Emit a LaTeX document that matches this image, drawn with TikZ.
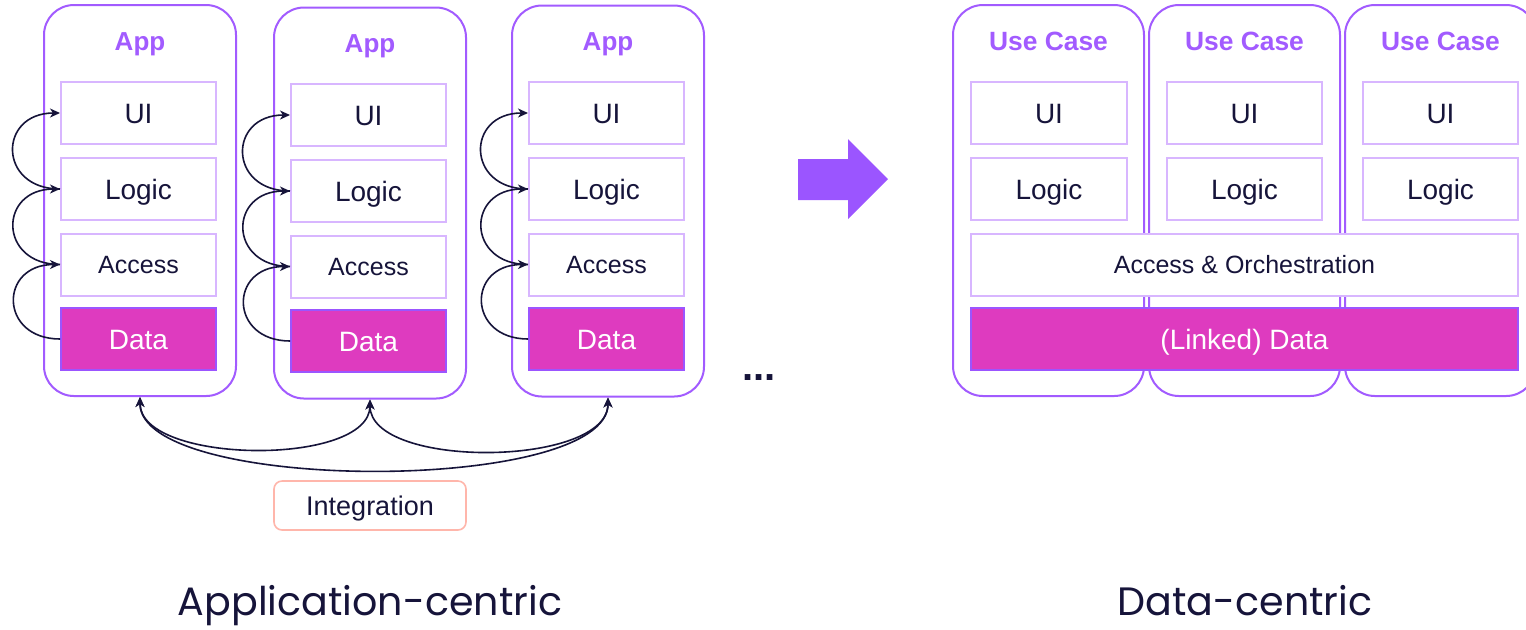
\documentclass[tikz,border=0pt]{standalone}
\usepackage{fontspec}
\setmainfont{Liberation Sans}
\newfontfamily\titlefont{Poppins}
\usetikzlibrary{arrows.meta}
\definecolor{ink}{HTML}{16143A}
\definecolor{violetb}{HTML}{A25BFF}
\definecolor{lilac}{HTML}{D8B6FF}
\definecolor{magentad}{HTML}{DE3BBF}
\definecolor{violetd}{HTML}{9B55FF}
\definecolor{salmon}{HTML}{FFB6AB}
\tikzset{
  outer/.style={draw=violetb, line width=1pt, rounded corners=15pt, minimum width=96pt, minimum height=195.5pt, inner sep=0pt},
  ttl/.style={text=violetb, font=\fontsize{13}{15}\selectfont\bfseries, text height=9.3pt, text depth=0pt, inner sep=0pt},
  inner/.style={draw=lilac, line width=1pt, fill=white, minimum width=77.5pt, minimum height=31pt, inner sep=0pt, text=ink, font=\fontsize{14}{16}\selectfont, text height=10pt, text depth=0pt},
  small/.style={font=\fontsize{12.5}{14}\selectfont, text height=9pt},
  datab/.style={inner, fill=magentad, draw=violetd, line width=0.8pt, text=white},
  loopar/.style={draw=ink, line width=0.8pt, -{Stealth[length=5pt,width=4.5pt,inset=1.5pt]}},
  integ/.style={draw=ink, line width=0.8pt, {Stealth[length=5pt,width=4.5pt,inset=1.5pt]}-{Stealth[length=5pt,width=4.5pt,inset=1.5pt]}},
  bigtitle/.style={text=ink, font=\titlefont\fontsize{19.8}{22}\selectfont, anchor=base, inner sep=0pt}
}
\begin{document}
\begin{tikzpicture}[x=0.5pt, y=-0.5pt]
\clip (0,0) rectangle (1526,629);
\fill[white] (0,0) rectangle (1526,629);
% ---------- Application-centric ----------
\node[outer] (app1) at (140,200.5) {};
\node[outer] (app2) at (370,203) {};
\node[outer] (app3) at (608,201) {};
\node[ttl] (t1) at (140,41) {App};
\node[ttl] (t2) at (370,43) {App};
\node[ttl] (t3) at (608,41) {App};
% app 1
\node[inner] (a1ui) at (138.5,113) {UI};
\node[inner] (a1lo) at (138.5,189) {Logic};
\node[inner, small] (a1ac) at (138.5,264.5) {Access};
\node[datab] (a1da) at (138.5,339) {Data};
% app 2
\node[inner] (a2ui) at (368.5,115) {UI};
\node[inner] (a2lo) at (368.5,191) {Logic};
\node[inner, small] (a2ac) at (368.5,266.5) {Access};
\node[datab] (a2da) at (368.5,341) {Data};
% app 3
\node[inner] (a3ui) at (606.5,113) {UI};
\node[inner] (a3lo) at (606.5,189) {Logic};
\node[inner, small] (a3ac) at (606.5,264.5) {Access};
\node[datab] (a3da) at (606.5,339) {Data};
% loops
\foreach \a in {a1,a2,a3}{
  \draw[loopar] (\a lo.west) to[out=180,in=180,looseness=2.1] (\a ui.west);
  \draw[loopar] (\a ac.west) to[out=180,in=180,looseness=2.1] (\a lo.west);
  \draw[loopar] (\a da.west) to[out=180,in=180,looseness=2.1] (\a ac.west);
}
% integration
\draw[integ] (app2.south) to[out=-90,in=-90,looseness=0.75] (app1.south);
\draw[integ] (app2.south) to[out=-90,in=-90,looseness=0.75] (app3.south);
\draw[integ] (app1.south) to[out=-90,in=-90,looseness=0.53] (app3.south);
\node[draw=salmon, line width=0.8pt, rounded corners=4pt, minimum width=96pt, minimum height=24.5pt, inner sep=0pt, text=ink, font=\fontsize{13.5}{15}\selectfont, text height=9.7pt, text depth=0pt] (integ) at (370,505.5) {Integration};
\node[text=ink, font=\fontsize{20}{22}\selectfont\bfseries, inner sep=0pt] (dots) at (759,378) {...};
% big arrow
\fill[violetd] (798,159) -- (848,159) -- (848,139) -- (888,179) -- (848,219) -- (848,200) -- (798,200) -- cycle;
% ---------- Data-centric ----------
\node[outer, minimum width=95.5pt] (uc1) at (1048.5,200.5) {};
\node[outer, minimum width=95.5pt] (uc2) at (1244.5,200.5) {};
\node[outer, minimum width=95.5pt] (uc3) at (1440.5,200.5) {};
\node[ttl, font=\fontsize{13.2}{15}\selectfont\bfseries, text height=9.6pt] (u1) at (1048.5,41) {Use Case};
\node[ttl, font=\fontsize{13.2}{15}\selectfont\bfseries, text height=9.6pt] (u2) at (1244.5,41) {Use Case};
\node[ttl, font=\fontsize{13.2}{15}\selectfont\bfseries, text height=9.6pt] (u3) at (1440.5,41) {Use Case};
\node[inner, minimum width=78pt] (c1ui) at (1049,113) {UI};
\node[inner, minimum width=78pt] (c1lo) at (1049,189) {Logic};
\node[inner] (c2ui) at (1244.5,113) {UI};
\node[inner] (c2lo) at (1244.5,189) {Logic};
\node[inner] (c3ui) at (1440.5,113) {UI};
\node[inner] (c3lo) at (1440.5,189) {Logic};
\node[inner, small, minimum width=273.5pt] (acc) at (1244.5,264.5) {Access \& Orchestration};
\node[datab, minimum width=273.5pt] (ldata) at (1244.5,339) {(Linked) Data};
% titles
\node[bigtitle] (lt) at (370,615) {Application-centric};
\node[bigtitle] (rt) at (1245,615) {Data-centric};
\end{tikzpicture}
\end{document}
